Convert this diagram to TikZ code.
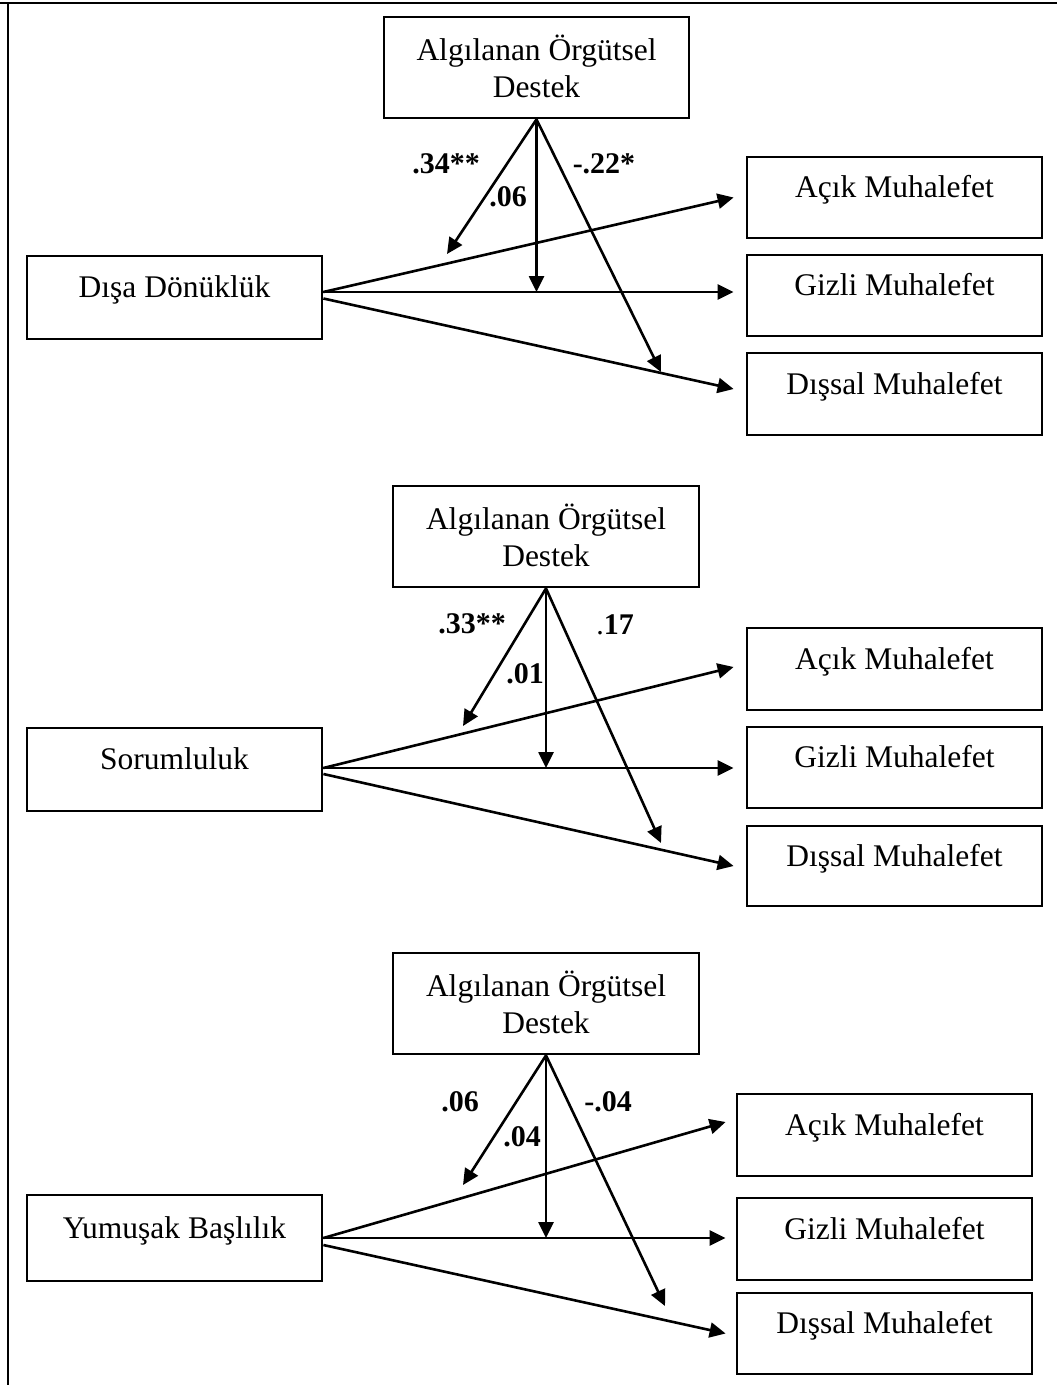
\documentclass[tikz,border=0pt]{standalone}
\usepackage{fontspec}
\setmainfont{Liberation Serif}
\usetikzlibrary{arrows.meta,calc}
\begin{document}
\begin{tikzpicture}[x=1pt,y=-1pt,
  box/.style={draw,line width=2.8pt,inner sep=0pt,minimum width=295pt,minimum height=82pt,
    text height=14pt,text depth=14pt,font=\fontsize{31.5}{37}\selectfont},
  modbox/.style={draw,line width=2.8pt,inner sep=0pt,minimum width=305pt,minimum height=101pt},
  modtext/.style={anchor=base,inner sep=0pt,font=\fontsize{31.5}{37}\selectfont},
  arr/.style={line width=2.6pt,-{Triangle[length=16pt,width=15pt]}},
  coef/.style={font=\fontsize{30}{36}\selectfont\bfseries,inner sep=0pt},
  frameline/.style={line width=2.8pt}]
\useasboundingbox (0,0) rectangle (1057,1385);
% frame
\coordinate (fa) at (0,3);
\coordinate (fb) at (1057,3);
\coordinate (fc) at (8,3);
\coordinate (fd) at (8,1385);
\draw[frameline] (fa) -- (fb);
\draw[frameline] (fc) -- (fd);

% ---------------- Section 1 ----------------
\node[modbox] (M1) at (536.5,67.5) {};
\node[modtext] (M1t1) at ($(M1.north)+(0,45)$) {Algılanan Örgütsel};
\node[modtext] (M1t2) at ($(M1.north)+(0,82)$) {Destek};
\node[box,minimum height=83pt] (X1) at (174.5,297.5) {Dışa Dönüklük};
\node[box,minimum height=81pt] (A1) at (894.5,197.5) {Açık Muhalefet};
\node[box,minimum height=81pt] (G1) at (894.5,295.5) {Gizli Muhalefet};
\node[box,minimum height=82pt] (D1) at (894.5,394) {Dışsal Muhalefet};
\coordinate (s1) at ($(X1.east)+(0,-5.5)$);
\coordinate (s1b) at ($(X1.east)+(0,1)$);
\draw[arr] (s1) -- ($(A1.west)+(-12,0)$);
\draw[arr] (s1) -- ($(s1 -| G1.west)+(-12,0)$);
\draw[arr] (s1b) -- ($(D1.west)+(-12,-5)$);
\coordinate (t1a) at (447,254);
\coordinate (t1c) at (661,372);
\draw[arr] (M1.south) -- (t1a);
\draw[arr] (M1.south) -- (M1.south |- s1);
\draw[arr] (M1.south) -- (t1c);
\node[coef] (c1a) at (446,164) {.34**};
\node[coef] (c1b) at (508,197) {.06};
\node[coef] (c1c) at (604,164) {-.22*};

% ---------------- Section 2 ----------------
\node[modbox,minimum width=306pt] (M2) at (546,536.5) {};
\node[modtext] (M2t1) at ($(M2.north)+(0,45)$) {Algılanan Örgütsel};
\node[modtext] (M2t2) at ($(M2.north)+(0,82)$) {Destek};
\node[box,minimum height=83pt] (X2) at (174.5,769.5) {Sorumluluk};
\node[box,minimum height=82pt] (A2) at (894.5,669) {Açık Muhalefet};
\node[box,minimum height=81pt] (G2) at (894.5,767.5) {Gizli Muhalefet};
\node[box,minimum height=80pt] (D2) at (894.5,866) {Dışsal Muhalefet};
\coordinate (s2) at ($(X2.east)+(0,-1.5)$);
\coordinate (s2b) at ($(X2.east)+(0,4.5)$);
\draw[arr] (s2) -- ($(A2.west)+(-12,-2)$);
\draw[arr] (s2) -- ($(s2 -| G2.west)+(-12,0)$);
\draw[arr] (s2b) -- ($(D2.west)+(-12,0)$);
\coordinate (t2a) at (463,726);
\coordinate (t2c) at (661,843);
\draw[arr] (M2.south) -- (t2a);
\draw[arr] (M2.south) -- (M2.south |- s2);
\draw[arr] (M2.south) -- (t2c);
\node[coef] (c2a) at (472,624) {.33**};
\node[coef] (c2b) at (525,674) {.01};
\node[coef] (c2c) at (615,625) {\mdseries.\bfseries17};

% ---------------- Section 3 ----------------
\node[modbox,minimum width=306pt] (M3) at (546,1003.5) {};
\node[modtext] (M3t1) at ($(M3.north)+(0,45)$) {Algılanan Örgütsel};
\node[modtext] (M3t2) at ($(M3.north)+(0,82)$) {Destek};
\node[box,minimum height=86pt] (X3) at (174.5,1238) {Yumuşak Başlılık};
\node[box,minimum height=82pt] (A3) at (884.5,1135) {Açık Muhalefet};
\node[box,minimum height=82pt] (G3) at (884.5,1239) {Gizli Muhalefet};
\node[box,minimum height=81pt] (D3) at (884.5,1333.5) {Dışsal Muhalefet};
\coordinate (s3) at ($(X3.east)+(0,0)$);
\coordinate (s3b) at ($(X3.east)+(0,7)$);
\draw[arr] (s3) -- ($(A3.west)+(-10,-13)$);
\draw[arr] (s3) -- ($(s3 -| G3.west)+(-10,0)$);
\draw[arr] (s3b) -- ($(D3.west)+(-10,0)$);
\coordinate (t3a) at (463,1185);
\coordinate (t3c) at (665,1306);
\draw[arr] (M3.south) -- (t3a);
\draw[arr] (M3.south) -- (M3.south |- s3);
\draw[arr] (M3.south) -- (t3c);
\node[coef] (c3a) at (460,1102) {.06};
\node[coef] (c3b) at (522,1137) {.04};
\node[coef] (c3c) at (608,1102) {-.04};
\end{tikzpicture}
\end{document}
